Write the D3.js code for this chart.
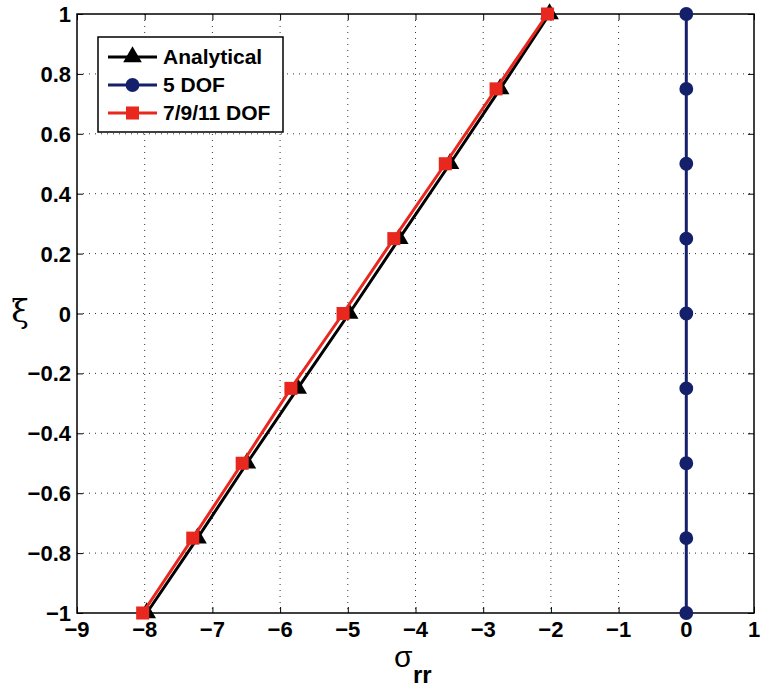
<!DOCTYPE html>
<html lang="en">
<head>
<meta charset="UTF-8">
<title>sigma_rr vs xi</title>
<script src="https://d3js.org/d3.v7.min.js"></script>
<style>
    body { margin: 0; padding: 0; background: #fff; }
    svg { display: block; font-family: Arial, "Liberation Sans", sans-serif; }
</style>
</head>
<body>
<svg id="chart" width="762" height="691"></svg>
<script>
    // xi levels shared by all series
    const xiValues = [-1, -0.75, -0.5, -0.25, 0, 0.25, 0.5, 0.75, 1];

    // sigma_rr values for each series
    const analyticalSigma = [-7.97, -7.22, -6.49, -5.74, -4.98, -4.24, -3.49, -2.75, -2.02];
    const dof5Sigma = [0, 0, 0, 0, 0, 0, 0, 0, 0];
    const dof7Sigma = [-8.03, -7.29, -6.56, -5.84, -5.07, -4.32, -3.56, -2.81, -2.05];

    const xTicks = [-9, -8, -7, -6, -5, -4, -3, -2, -1, 0, 1];
    const yTicks = [-1, -0.8, -0.6, -0.4, -0.2, 0, 0.2, 0.4, 0.6, 0.8, 1];
    const xTickLabels = ["\u22129", "\u22128", "\u22127", "\u22126", "\u22125", "\u22124", "\u22123", "\u22122", "\u22121", "0", "1"];
    const yTickLabels = ["\u22121", "\u22120.8", "\u22120.6", "\u22120.4", "\u22120.2", "0", "0.2", "0.4", "0.6", "0.8", "1"];

    const seriesNames = ["Analytical", "5 DOF", "7/9/11 DOF"];
    const seriesColors = ["#000000", "#15206b", "#e8281f"];
    const seriesMarkers = [d3.symbolTriangle, d3.symbolCircle, d3.symbolSquare];
    const markerSizes = [150, 150, 170];

    const margin = { top: 14, right: 8, bottom: 78, left: 77 };
    const width = 762 - margin.left - margin.right;
    const height = 691 - margin.top - margin.bottom;

    const svg = d3.select("#chart");
    const g = svg.append("g").attr("transform", `translate(${margin.left},${margin.top})`);

    const x = d3.scaleLinear().domain([-9, 1]).range([0, width]);
    const y = d3.scaleLinear().domain([-1, 1]).range([height, 0]);

    // dotted grid
    g.append("g").selectAll("line")
        .data(xTicks.slice(1, -1))
        .enter().append("line")
        .attr("x1", d => x(d)).attr("x2", d => x(d))
        .attr("y1", 0).attr("y2", height)
        .attr("stroke", "#333").attr("stroke-width", 1)
        .attr("stroke-dasharray", "1,5");
    g.append("g").selectAll("line")
        .data(yTicks.slice(1, -1))
        .enter().append("line")
        .attr("y1", d => y(d)).attr("y2", d => y(d))
        .attr("x1", 0).attr("x2", width)
        .attr("stroke", "#333").attr("stroke-width", 1)
        .attr("stroke-dasharray", "1,5");

    // axes: inward ticks on all four sides like matlab, labels added separately
    const tickLen = 6;
    const noDomain = a => a.select(".domain").remove();
    g.append("g").attr("transform", `translate(0,${height})`)
        .call(d3.axisBottom(x).tickValues(xTicks).tickSize(-tickLen).tickFormat("")).call(noDomain);
    g.append("g")
        .call(d3.axisTop(x).tickValues(xTicks).tickSize(-tickLen).tickFormat("")).call(noDomain);
    g.append("g")
        .call(d3.axisLeft(y).tickValues(yTicks).tickSize(-tickLen).tickFormat("")).call(noDomain);
    g.append("g").attr("transform", `translate(${width},0)`)
        .call(d3.axisRight(y).tickValues(yTicks).tickSize(-tickLen).tickFormat("")).call(noDomain);
    g.selectAll(".tick line").attr("stroke", "#000");

    // big bold tick labels
    g.append("g").selectAll("text")
        .data(xTicks)
        .enter().append("text")
        .attr("x", d => x(d))
        .attr("y", height + 24)
        .attr("text-anchor", "middle")
        .attr("font-size", 22).attr("font-weight", "bold")
        .text((d, i) => xTickLabels[i]);
    g.append("g").selectAll("text")
        .data(yTicks)
        .enter().append("text")
        .attr("x", -6)
        .attr("y", d => y(d) + 8)
        .attr("text-anchor", "end")
        .attr("font-size", 22).attr("font-weight", "bold")
        .text((d, i) => yTickLabels[i]);

    g.append("rect")
        .attr("width", width).attr("height", height)
        .attr("fill", "none").attr("stroke", "#000").attr("stroke-width", 1.5);

    // series
    const allSigma = [analyticalSigma, dof5Sigma, dof7Sigma];
    const line = d3.line().x(d => x(d[0])).y(d => y(d[1]));
    allSigma.forEach((sig, i) => {
        const pts = sig.map((s, k) => [s, xiValues[k]]);
        g.append("path")
            .datum(pts)
            .attr("d", line)
            .attr("fill", "none")
            .attr("stroke", seriesColors[i])
            .attr("stroke-width", 3);
        g.append("g").selectAll("path")
            .data(pts)
            .enter().append("path")
            .attr("transform", d => `translate(${x(d[0])},${y(d[1])})`)
            .attr("d", d3.symbol().type(seriesMarkers[i]).size(markerSizes[i]))
            .attr("fill", seriesColors[i]);
    });

    // legend
    const legend = g.append("g").attr("transform", "translate(21,23)");
    legend.append("rect")
        .attr("width", 185).attr("height", 95)
        .attr("fill", "#fff").attr("stroke", "#000").attr("stroke-width", 1.5);
    seriesNames.forEach((name, i) => {
        const ly = 20 + i * 28;
        legend.append("line")
            .attr("x1", 10).attr("x2", 59).attr("y1", ly).attr("y2", ly)
            .attr("stroke", seriesColors[i]).attr("stroke-width", 3);
        legend.append("path")
            .attr("transform", `translate(34.5,${ly})`)
            .attr("d", d3.symbol().type(seriesMarkers[i]).size(markerSizes[i]))
            .attr("fill", seriesColors[i]);
        legend.append("text")
            .attr("x", 65).attr("y", ly + 7)
            .attr("font-size", 21).attr("font-weight", "bold")
            .text(name);
    });

    // axis labels: sigma with a bold rr subscript
    svg.append("text")
        .attr("x", 394).attr("y", 667)
        .attr("font-size", 30)
        .text("\u03c3");
    svg.append("text")
        .attr("x", 413).attr("y", 683)
        .attr("font-size", 24).attr("font-weight", "bold")
        .text("rr");

    svg.append("text")
        .attr("x", 20).attr("y", 322)
        .attr("text-anchor", "middle")
        .attr("font-size", 32)
        .attr("font-family", "DejaVu Serif, serif")
        .text("\u03be");
</script>
</body>
</html>
